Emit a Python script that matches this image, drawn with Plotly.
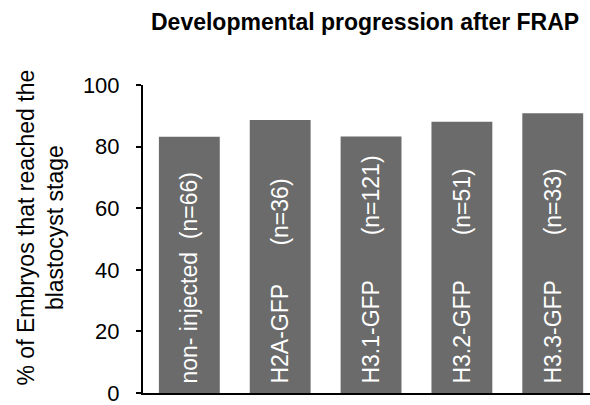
import plotly.graph_objects as go

groups = ["non- injected", "H2A-GFP", "H3.1-GFP", "H3.2-GFP", "H3.3-GFP"]
n_counts = [66, 36, 121, 51, 33]
gaps = [2, 6, 7, 7, 7]
percent_blastocyst = [83.2, 88.6, 83.3, 88.1, 90.8]
y_ticks = [0, 20, 40, 60, 80, 100]

NB = "\u00a0"
labels = [f"{NB}{g}{NB * k}(n={n})" for g, n, k in zip(groups, n_counts, gaps)]

FONT = "Liberation Sans, Arial, sans-serif"

fig = go.Figure(
    go.Bar(
        x=list(range(len(groups))),
        y=percent_blastocyst,
        text=labels,
        textposition="inside",
        insidetextanchor="start",
        textangle=-90,
        textfont=dict(color="white", size=23, family=FONT),
        marker=dict(color="#6b6b6b", line=dict(width=0)),
        width=0.67,
        cliponaxis=False,
        hoverinfo="skip",
    )
)

fig.update_layout(
    width=590,
    height=405,
    margin=dict(l=143, r=0, t=85, b=12),
    paper_bgcolor="white",
    plot_bgcolor="white",
    showlegend=False,
    uniformtext=dict(minsize=20, mode="show"),
    font=dict(family=FONT, color="black"),
    xaxis=dict(
        range=[-0.51, 4.41],
        showticklabels=False,
        ticks="",
        showgrid=False,
        zeroline=False,
        showline=True,
        linecolor="black",
        linewidth=2,
    ),
    yaxis=dict(
        range=[0, 100],
        tickvals=y_ticks,
        ticks="outside",
        ticklen=5,
        tickwidth=2,
        tickcolor="black",
        showgrid=False,
        zeroline=False,
        showline=True,
        linecolor="black",
        linewidth=2,
        tickfont=dict(size=22, family=FONT, color="black"),
        ticklabelstandoff=12,
        ticklabeloverflow="allow",
    ),
    annotations=[
        dict(
            text="<b>Developmental progression after FRAP</b>",
            xref="paper", yref="paper",
            x=(365 - 143) / 447, y=(393 - 22) / 308,
            xanchor="center", yanchor="middle",
            showarrow=False,
            font=dict(size=23, family=FONT, color="black"),
        ),
        dict(
            text="% of Embryos that reached the<br>blastocyst stage",
            xref="paper", yref="paper",
            x=(40.5 - 143) / 447, y=(393 - 228) / 308,
            xanchor="center", yanchor="middle",
            textangle=-90,
            showarrow=False,
            font=dict(size=23, family=FONT, color="black"),
        ),
    ],
)

fig.write_html(
    "out.html",
    config={"displayModeBar": False},
    post_script="document.body.style.margin='0';",
)
